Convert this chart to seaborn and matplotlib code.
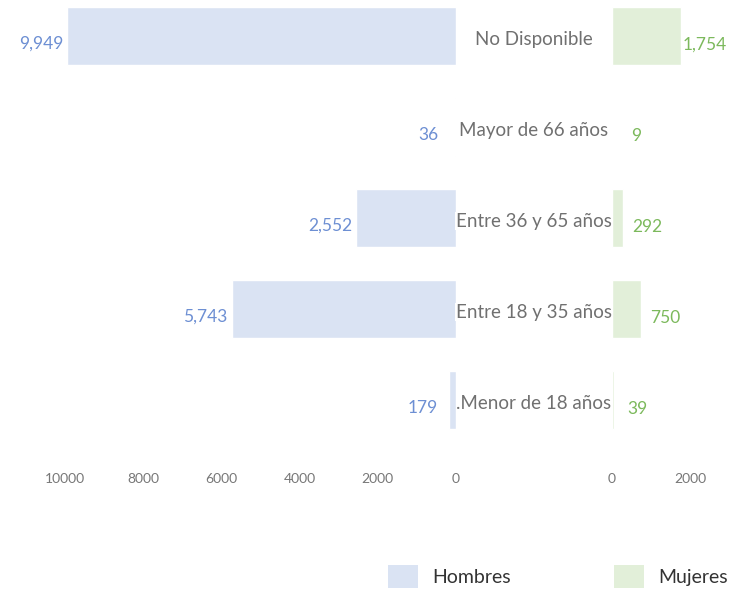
import matplotlib
matplotlib.use("Agg")
import matplotlib.pyplot as plt
import matplotlib.transforms as mtransforms
from matplotlib.patches import Patch
import seaborn as sns
import pandas as pd

# Data (top to bottom)
categorias = ["No Disponible", "Mayor de 66 años", "Entre 36 y 65 años",
              "Entre 18 y 35 años", ".Menor de 18 años"]
hombres = [9949, 36, 2552, 5743, 179]
mujeres = [1754, 9, 292, 750, 39]
ticks_h = [10000, 8000, 6000, 4000, 2000, 0]
ticks_m = [0, 2000]

col_h = "#dae3f3"
col_m = "#e2efd9"
txt_h = "#6d8fd3"
txt_m = "#7cb95c"

sns.set_style("white")
plt.rcParams["font.family"] = ["Lato", "DejaVu Sans"]

df = pd.DataFrame({"cat": categorias, "h": hombres, "m": mujeres})

fig = plt.figure(figsize=(7.36, 5.89), dpi=100)
W, H = 736, 589
bottom = (H - 445.5) / H
height = 445.5 / H
ax_l = fig.add_axes([30 / W, bottom, (456 - 30) / W, height])
ax_r = fig.add_axes([612 / W, bottom, (730 - 612) / W, height])

sns.barplot(data=df, x="h", y="cat", color=col_h, saturation=1, width=0.63, ax=ax_l)
sns.barplot(data=df, x="m", y="cat", color=col_m, saturation=1, width=0.63, ax=ax_r)

ax_l.set_xlim(10900, 0)
ax_r.set_xlim(0, 3020)
for ax in (ax_l, ax_r):
    ax.set_ylim(4.5, -0.396)
    ax.set_xlabel("")
    ax.set_ylabel("")
    ax.set_yticks([])
    sns.despine(ax=ax, left=True, bottom=True)
    ax.tick_params(axis="x", length=0, pad=20, labelsize=10, labelcolor="#777777")
ax_l.set_xticks(ticks_h)
ax_r.set_xticks(ticks_m)

# value labels
for i, v in enumerate(hombres):
    ax_l.annotate(f"{v:,}", (v, i), xytext=(-26, -8), textcoords="offset pixels",
                  ha="center", va="center", color=txt_h, fontsize=12.5)
for i, v in enumerate(mujeres):
    ax_r.annotate(f"{v:,}", (v, i), xytext=(24, -9), textcoords="offset pixels",
                  ha="center", va="center", color=txt_m, fontsize=12.5)

# category labels in the middle
trans = mtransforms.blended_transform_factory(fig.transFigure, ax_l.transData)
for i, c in enumerate(categorias):
    ax_l.annotate(c, (534 / W, i), xycoords=trans, xytext=(0, -3),
                  textcoords="offset pixels", ha="center", va="center",
                  fontsize=13.5, color="#707070", annotation_clip=False,
                  bbox=dict(facecolor="white", edgecolor="none", pad=0.5))

handles = [Patch(facecolor=col_h, edgecolor="none", label="Hombres"),
           Patch(facecolor=col_m, edgecolor="none", label="Mujeres")]
fig.legend(handles=handles, loc="lower left", bbox_to_anchor=(388 / W, 1 / H),
           ncol=2, frameon=False, fontsize=14, handlelength=1.55, handleheight=1.45,
           handletextpad=0.72, columnspacing=5.3, borderpad=0, borderaxespad=0,
           labelcolor="#333333")

fig.savefig("out.png", dpi=100)
